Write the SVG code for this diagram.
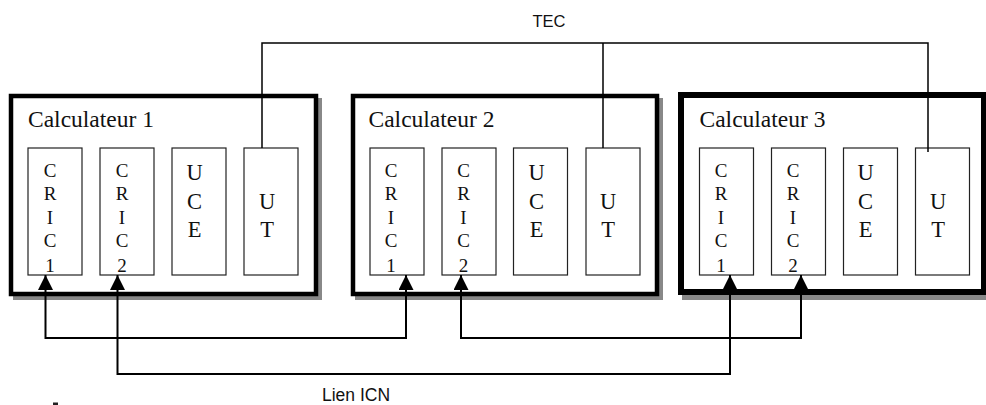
<svg xmlns="http://www.w3.org/2000/svg" width="986" height="405" viewBox="0 0 986 405">
<defs>
<style>
.shadow{fill:#888}
.calc{fill:#fff;stroke:#000;stroke-width:4.5}
.calc3{fill:#fff;stroke:#000;stroke-width:6}
.unit{fill:#fff;stroke:#222;stroke-width:1.2}
.title{font-family:"Liberation Serif","Times New Roman",serif;font-size:23.5px;fill:#111}
.cric{font-family:"Liberation Serif","Times New Roman",serif;font-size:19px;fill:#111;text-anchor:middle}
.big{font-family:"Liberation Serif","Times New Roman",serif;font-size:22.5px;fill:#111;text-anchor:middle}
.lbl{font-family:"Liberation Sans",Arial,sans-serif;fill:#111}
.tec{fill:none;stroke:#000;stroke-width:1.5}
.icn{fill:none;stroke:#000;stroke-width:2;marker-start:url(#arr);marker-end:url(#arr)}
</style>
<marker id="arr" viewBox="0 0 15 15" refX="15" refY="7.5" markerWidth="15" markerHeight="15" markerUnits="userSpaceOnUse" orient="auto-start-reverse">
<path d="M0,0 L15,7.5 L0,15 Z" fill="#000"/>
</marker>
</defs>
<rect width="986" height="405" fill="#fff"/>

<g id="calc1">
<rect class="shadow" x="13" y="98" width="309" height="202"/>
<rect class="calc" x="11" y="96" width="305" height="198"/>
<text class="title" x="28" y="127">Calculateur 1</text>
<g id="calc1-cric1"><rect class="unit" x="28" y="148" width="54" height="127"/>
<text class="cric"><tspan x="50" y="177">C</tspan><tspan x="50" y="200">R</tspan><tspan x="50" y="223.5">I</tspan><tspan x="50" y="247">C</tspan><tspan x="50" y="271.5">1</tspan></text></g>
<g id="calc1-cric2"><rect class="unit" x="100" y="148" width="54" height="127"/>
<text class="cric"><tspan x="122" y="177">C</tspan><tspan x="122" y="200">R</tspan><tspan x="122" y="223.5">I</tspan><tspan x="122" y="247">C</tspan><tspan x="122" y="271.5">2</tspan></text></g>
<g id="calc1-uce"><rect class="unit" x="172" y="148" width="54" height="127"/>
<text class="big"><tspan x="194.5" y="180">U</tspan><tspan x="194.5" y="208.5">C</tspan><tspan x="194.5" y="237">E</tspan></text></g>
<g id="calc1-ut"><rect class="unit" x="244" y="148" width="54" height="127"/>
<text class="big"><tspan x="267" y="208.5">U</tspan><tspan x="267" y="237">T</tspan></text></g>
</g>

<g id="calc2">
<rect class="shadow" x="355" y="98" width="308" height="202"/>
<rect class="calc" x="353" y="96" width="304" height="198"/>
<text class="title" x="368.5" y="127">Calculateur 2</text>
<g id="calc2-cric1"><rect class="unit" x="370" y="148" width="54" height="127"/>
<text class="cric"><tspan x="391" y="177">C</tspan><tspan x="391" y="200">R</tspan><tspan x="391" y="223.5">I</tspan><tspan x="391" y="247">C</tspan><tspan x="391" y="271.5">1</tspan></text></g>
<g id="calc2-cric2"><rect class="unit" x="442" y="148" width="54" height="127"/>
<text class="cric"><tspan x="463.5" y="177">C</tspan><tspan x="463.5" y="200">R</tspan><tspan x="463.5" y="223.5">I</tspan><tspan x="463.5" y="247">C</tspan><tspan x="463.5" y="271.5">2</tspan></text></g>
<g id="calc2-uce"><rect class="unit" x="513.5" y="148" width="54" height="127"/>
<text class="big"><tspan x="536.5" y="180">U</tspan><tspan x="536.5" y="208.5">C</tspan><tspan x="536.5" y="237">E</tspan></text></g>
<g id="calc2-ut"><rect class="unit" x="586" y="148" width="54" height="127"/>
<text class="big"><tspan x="608" y="208.5">U</tspan><tspan x="608" y="237">T</tspan></text></g>
</g>

<g id="calc3">
<rect class="shadow" x="682" y="96" width="309" height="204"/>
<rect class="calc3" x="681" y="95" width="303" height="197"/>
<text class="title" x="699.5" y="127">Calculateur 3</text>
<g id="calc3-cric1"><rect class="unit" x="699.5" y="148" width="54" height="127"/>
<text class="cric"><tspan x="721" y="177">C</tspan><tspan x="721" y="200">R</tspan><tspan x="721" y="223.5">I</tspan><tspan x="721" y="247">C</tspan><tspan x="721" y="271.5">1</tspan></text></g>
<g id="calc3-cric2"><rect class="unit" x="771.5" y="148" width="54" height="127"/>
<text class="cric"><tspan x="793" y="177">C</tspan><tspan x="793" y="200">R</tspan><tspan x="793" y="223.5">I</tspan><tspan x="793" y="247">C</tspan><tspan x="793" y="271.5">2</tspan></text></g>
<g id="calc3-uce"><rect class="unit" x="843.5" y="148" width="54" height="127"/>
<text class="big"><tspan x="865.5" y="180">U</tspan><tspan x="865.5" y="208.5">C</tspan><tspan x="865.5" y="237">E</tspan></text></g>
<g id="calc3-ut"><rect class="unit" x="915.5" y="148" width="54" height="127"/>
<text class="big"><tspan x="938" y="208.5">U</tspan><tspan x="938" y="237">T</tspan></text></g>
</g>

<g id="connectors">
<path class="tec" d="M262,148 V43 H928 V152 M603,43 V148"/>
<path class="icn" d="M45.5,275 V338 H406 V275"/>
<path class="icn" d="M117.5,275 V374 H730 V275"/>
<path class="icn" d="M461,275 V338 H801 V275"/>
</g>

<text class="lbl" x="549" y="27" font-size="16.5" text-anchor="middle">TEC</text>
<text class="lbl" x="322" y="401" font-size="17.5">Lien ICN</text>
<rect x="53" y="402.5" width="5" height="2.5" fill="#222"/>
</svg>
